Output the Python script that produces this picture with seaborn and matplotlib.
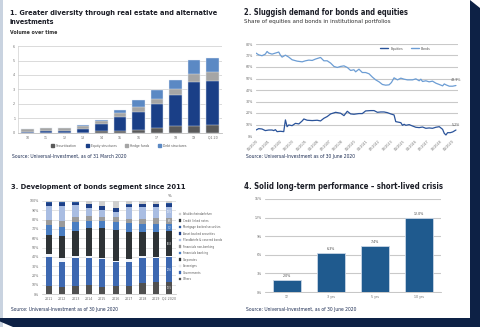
import numpy as np
import pandas as pd
import matplotlib
matplotlib.use("Agg")
import matplotlib.pyplot as plt
import seaborn as sns
from matplotlib import font_manager
from matplotlib.patches import Polygon, Rectangle, Patch
from matplotlib.lines import Line2D

# ---------------- data ----------------
# Panel 1: volume over time (stacked)
p1_years = ["10", "11", "12", "13", "14", "15", "16", "17", "18", "19", "Q1 20"]
p1_securitisation = [0.02, 0.02, 0.02, 0.03, 0.12, 0.15, 0.20, 0.36, 0.45, 0.45, 0.52]
p1_equity = [0.08, 0.10, 0.14, 0.27, 0.49, 0.93, 1.22, 1.62, 2.15, 3.05, 3.08]
p1_hedge = [0.18, 0.20, 0.17, 0.17, 0.19, 0.32, 0.38, 0.38, 0.40, 0.60, 0.60]
p1_debt = [0.02, 0.04, 0.03, 0.05, 0.11, 0.21, 0.50, 0.62, 0.66, 0.92, 0.94]
p1_series = ["Securitisation", "Equity structures", "Hedge funds", "Debt structures"]
p1_yticks = ["0", "1", "2", "3", "4", "5", "6"]

# Panel 2: share of equities and bonds (%)
p2_bonds_x = [2000.0, 2000.27, 2000.61, 2000.95, 2001.13, 2001.30, 2001.64, 2001.98, 2002.32, 2002.49,
              2002.66, 2003.0, 2003.34, 2003.68, 2004.19, 2004.71, 2005.05, 2005.39, 2005.73, 2006.07,
              2006.58, 2006.92, 2007.26, 2007.61, 2007.95, 2008.29, 2008.63, 2008.97, 2009.31, 2009.65,
              2009.99, 2010.16, 2010.50, 2010.84, 2011.18, 2011.53, 2011.87, 2012.21, 2012.55, 2012.89,
              2013.23, 2013.57, 2013.81, 2014.08, 2014.43, 2014.77, 2015.11, 2015.45, 2015.96, 2016.30,
              2016.64, 2016.81, 2016.98, 2017.32, 2017.66, 2018.0, 2018.35, 2018.69, 2019.03, 2019.20,
              2019.37, 2019.71, 2020.05, 2020.39]
p2_bonds = [72.1, 70.6, 69.8, 71.2, 73.5, 72.1, 71.2, 72.1, 73.0, 70.3,
            68.6, 70.3, 68.6, 66.3, 65.1, 64.5, 65.4, 66.0, 65.7, 66.9,
            68.3, 65.4, 65.4, 63.4, 60.5, 59.6, 60.5, 61.0, 59.6, 57.0,
            57.6, 55.8, 58.1, 55.2, 55.2, 54.1, 51.2, 48.8, 47.1, 44.8,
            44.2, 44.5, 46.5, 50.6, 48.8, 50.3, 49.4, 48.8, 48.8, 49.7,
            48.0, 49.4, 47.4, 48.0, 47.1, 47.7, 45.9, 44.8, 43.6, 45.3,
            44.5, 43.3, 43.3, 43.9]
p2_eq_x = [2000.0, 2000.27, 2000.61, 2000.95, 2001.30, 2001.64, 2001.81, 2001.98, 2002.15, 2002.49,
           2002.83, 2003.0, 2003.17, 2003.34, 2003.68, 2004.02, 2004.37, 2004.71, 2004.88, 2005.22,
           2005.73, 2006.24, 2006.58, 2006.92, 2007.26, 2007.61, 2008.12, 2008.63, 2008.97, 2009.31,
           2009.65, 2009.99, 2010.50, 2010.84, 2011.18, 2011.70, 2012.04, 2012.38, 2012.72, 2013.06,
           2013.40, 2013.74, 2014.08, 2014.25, 2014.60, 2014.77, 2014.94, 2015.11, 2015.28, 2015.62,
           2015.96, 2016.30, 2016.64, 2016.98, 2017.32, 2017.66, 2018.0, 2018.35, 2018.69, 2019.03,
           2019.20, 2019.37, 2019.54, 2019.81, 2020.05, 2020.39]
p2_equities = [5.2, 6.4, 6.1, 4.7, 5.2, 5.2, 4.7, 5.5, 3.8, 4.1,
               3.8, 14.0, 8.1, 9.6, 9.0, 11.0, 10.5, 13.1, 14.8, 13.7,
               13.4, 13.7, 13.1, 15.4, 16.9, 19.2, 20.6, 19.8, 17.7, 21.5,
               19.2, 18.9, 19.5, 19.5, 21.8, 22.1, 22.1, 20.6, 20.9, 20.9,
               20.3, 19.2, 18.3, 12.5, 11.9, 11.6, 9.3, 10.2, 9.3, 9.9,
               8.7, 7.6, 7.3, 7.8, 6.7, 7.0, 6.7, 7.6, 8.1, 5.8,
               2.3, 0.9, 2.9, 2.9, 3.5, 5.2]
p2_yticks = ["0%", "10%", "20%", "30%", "40%", "50%", "60%", "70%", "80%"]
p2_xtick_labels = ["01/2000", "04/2001", "07/2002", "10/2003", "01/2005", "04/2006", "07/2007",
                   "10/2008", "01/2010", "04/2011", "07/2012", "10/2013", "01/2015", "04/2016",
                   "07/2017", "10/2018", "01/2020"]
p2_xtick_pos = [2000.0, 2001.25, 2002.5, 2003.75, 2005.0, 2006.25, 2007.5, 2008.75, 2010.0,
                2011.25, 2012.5, 2013.75, 2015.0, 2016.25, 2017.5, 2018.75, 2020.0]

# Panel 3: bonds segment composition (%), stacked bottom -> top
p3_years = ["2011", "2012", "2013", "2014", "2015", "2016", "2017", "2018", "2019", "Q2 2020"]
p3_others = [9.0, 7.9, 9.0, 9.7, 7.9, 9.0, 9.0, 11.5, 12.5, 12.5]
p3_governments = [31.0, 26.9, 30.0, 29.3, 29.7, 25.0, 25.8, 27.5, 25.9, 27.6]
p3_sovereigns = [2.7, 4.2, 1.9, 2.2, 1.4, 1.8, 2.8, 1.9, 1.7, 0.8]
p3_corporates = [20.7, 23.4, 26.8, 29.4, 31.6, 33.0, 29.4, 26.1, 26.9, 26.8]
p3_fin_banking = [10.8, 10.0, 9.3, 7.9, 7.9, 9.0, 9.0, 7.9, 7.9, 7.2]
p3_fin_nonbanking = [5.4, 6.1, 6.2, 5.7, 4.7, 5.4, 4.6, 5.7, 6.5, 6.5]
p3_pfandbriefe = [15.4, 16.5, 12.5, 8.6, 7.1, 5.3, 12.6, 13.3, 12.5, 12.5]
p3_abs = [3.1, 3.1, 2.4, 3.5, 3.8, 3.8, 2.7, 2.4, 2.4, 3.1]
p3_mbs = [0.5, 0.5, 0.5, 0.5, 0.5, 0.5, 0.5, 0.5, 0.5, 0.5]
p3_cln = [0.2, 0.2, 0.2, 0.2, 0.2, 0.2, 0.2, 0.2, 0.2, 0.2]
p3_schuldschein = [1.2, 1.2, 1.2, 3.0, 5.2, 7.0, 3.4, 3.0, 3.0, 2.3]
p3_names = ["Others", "Governments", "Sovereigns", "Corporates", "Financials banking",
            "Financials non-banking", "Pfandbriefe & covered bonds", "Asset backed securities",
            "Mortgage backed securities", "Credit linked notes", "Schuldscheindarlehen"]
p3_yticks = ["0%", "10%", "20%", "30%", "40%", "50%", "60%", "70%", "80%", "90%", "100%"]

# Panel 4: performance
p4_periods = ["1Y", "3 yrs", "5 yrs", "10 yrs"]
p4_values = [2.0, 6.3, 7.4, 12.0]
p4_labels = ["2.0%", "6.3%", "7.4%", "12.0%"]
p4_yticks = ["0%", "3%", "6%", "9%", "12%", "15%"]

# ---------------- style ----------------
sns.set_theme(style="white")
fonts = font_manager.fontManager.ttflist
has_dv_cond = any(f.name == "DejaVu Sans" and f.stretch == "condensed" for f in fonts)
names = {f.name for f in fonts}
if has_dv_cond:
    FAMILY, STRETCH = "DejaVu Sans", "condensed"
elif "Liberation Sans Narrow" in names:
    FAMILY, STRETCH = "Liberation Sans Narrow", "normal"
else:
    FAMILY, STRETCH = "Roboto", "normal"
plt.rcParams["font.family"] = [FAMILY]
plt.rcParams["font.stretch"] = STRETCH

W, H = 480, 327
fig = plt.figure(figsize=(W / 100, H / 100), dpi=100)
fig.patch.set_facecolor("white")

NAVY = "#0d2145"
TITLE_C = "#1b1d26"
SRC_C = "#1c2c52"
TICK_C = "#6a6a6a"
TICK_FS = 2.6

# page decorations
bg = fig.add_axes([0, 0, 1, 1], zorder=-10)
bg.set_xlim(0, W)
bg.set_ylim(H, 0)
bg.axis("off")
bg.add_patch(Rectangle((0, 0), 3, H, color="#c9d3e0", lw=0))
bg.add_patch(Polygon([(470, 0), (480, 8), (480, H), (470, H)], closed=True, color=NAVY, lw=0))
bg.add_patch(Polygon([(0, 318), (480, 318), (480, H), (13, H), (0, 321.5)], closed=True, color=NAVY, lw=0))


def ax_px(x0, y0, x1, y1):
    return fig.add_axes([x0 / W, 1 - y1 / H, (x1 - x0) / W, (y1 - y0) / H])


fig.canvas.draw()
renderer = fig.canvas.get_renderer()


def fit_text(x, y, s, width, size=6, **kw):
    t = fig.text(x / W, 1 - y / H, s, fontsize=size, va="center", ha="left", **kw)
    w = t.get_window_extent(renderer=renderer).width
    t.set_fontsize(size * width / w)
    return t


def stacked(ax, cats, layers, colors, width, edge="none"):
    cum = np.zeros(len(cats))
    cums = []
    for vals in layers:
        cum = cum + np.array(vals)
        cums.append(cum.copy())
    for tot, col in reversed(list(zip(cums, colors))):
        df = pd.DataFrame({"cat": cats, "v": tot})
        sns.barplot(data=df, x="cat", y="v", order=cats, color=col, saturation=1,
                    width=width, errorbar=None, ax=ax, edgecolor=edge, linewidth=0.3)
    return cums


def style_ticks(ax):
    ax.tick_params(axis="both", labelsize=TICK_FS, colors=TICK_C, length=0, pad=2)
    ax.set_xlabel("")
    ax.set_ylabel("")


# ---------------- Panel 1 ----------------
fit_text(10, 12.5, "1. Greater diversity through real estate and alternative", 212,
         fontweight="bold", color=TITLE_C)
fit_text(10, 22.5, "investments", 45, fontweight="bold", color=TITLE_C)
fit_text(10, 32, "Volume over time", 47, fontweight="bold", color="#333333")
ax1 = ax_px(18, 46, 222, 133)
p1_colors = ["#5a5a5a", "#1a3f87", "#a5a5a5", "#5b89c4"]
stacked(ax1, p1_years, [p1_securitisation, p1_equity, p1_hedge, p1_debt], p1_colors, 0.68,
        edge="#e8eef6")
ax1.set_ylim(0, 6)
ax1.set_xlim(-0.5, len(p1_years) - 0.5)
ax1.set_yticks(range(len(p1_yticks)))
ax1.set_yticklabels(p1_yticks)
ax1.yaxis.grid(True, color="#d4d4d4", lw=0.6)
ax1.set_axisbelow(True)
for s in ["top", "right"]:
    ax1.spines[s].set_visible(False)
ax1.spines["left"].set_color("#d0d0d0")
ax1.spines["bottom"].set_color("#bdbdbd")
ax1.spines["left"].set_linewidth(0.5)
ax1.spines["bottom"].set_linewidth(0.6)
style_ticks(ax1)
h1 = [Patch(color=c) for c in p1_colors]
fig.legend(h1, p1_series, loc="center", bbox_to_anchor=(119 / W, 1 - 146 / H), ncol=4,
           frameon=False, fontsize=2.4, handlelength=0.9, handleheight=0.9, columnspacing=2.6,
           handletextpad=0.6, labelcolor="#555555")
fit_text(12, 156, "Source: Universal-Investment, as of 31 March 2020", 115, color=SRC_C)

# ---------------- Panel 2 ----------------
fit_text(244, 12.5, "2. Sluggish demand for bonds and equities", 166, fontweight="bold", color=TITLE_C)
fit_text(244, 21.7, "Share of equities and bonds in institutional portfolios", 147, color="#333333")
ax2 = ax_px(256, 44, 458, 136)
C_EQ, C_BD = "#2a539a", "#6c9dd4"
sns.lineplot(x=p2_eq_x, y=p2_equities, ax=ax2, color=C_EQ, lw=0.9)
sns.lineplot(x=p2_bonds_x, y=p2_bonds, ax=ax2, color=C_BD, lw=0.9)
ax2.set_ylim(0, 80)
ax2.set_xlim(2000.0, 2020.6)
ax2.set_yticks(np.arange(len(p2_yticks)) * 10)
ax2.set_yticklabels(p2_yticks)
ax2.set_xticks(p2_xtick_pos)
ax2.set_xticklabels(p2_xtick_labels, rotation=45, ha="right", rotation_mode="anchor")
ax2.yaxis.grid(True, color="#c9c9c9", lw=0.8)
sns.despine(ax=ax2, left=True, bottom=True)
style_ticks(ax2)
ax2.text(p2_bonds_x[-1], p2_bonds[-1] + 3, f"{p2_bonds[-1]:.1f}%", fontsize=2.6, color="#555555",
         ha="center", va="bottom")
ax2.text(p2_eq_x[-1], p2_equities[-1] + 3, f"{p2_equities[-1]:.1f}%", fontsize=2.6, color="#555555",
         ha="center", va="bottom")
ax2.legend([Line2D([], [], color=C_EQ, lw=1), Line2D([], [], color=C_BD, lw=1)], ["Equities", "Bonds"],
           loc="center", bbox_to_anchor=(0.74, 0.95), ncol=2, frameon=False, fontsize=2.6,
           handlelength=2.2, columnspacing=2.2, handletextpad=0.6, labelcolor="#555555")
fit_text(246, 157, "Source: Universal-Investment as of 30 June 2020", 112, color=SRC_C)

# ---------------- Panel 3 ----------------
fit_text(11, 186.7, "3. Development of bonds segment since 2011", 175, fontweight="bold", color=TITLE_C)
ax3 = ax_px(42, 201, 176, 294)
p3_layers = [p3_others, p3_governments, p3_sovereigns, p3_corporates, p3_fin_banking,
             p3_fin_nonbanking, p3_pfandbriefe, p3_abs, p3_mbs, p3_cln, p3_schuldschein]
p3_colors = ["#505050", "#3d68b1", "#f0f4fa", "#2e3336", "#4a7ec2", "#9b9b9b", "#a9bde2",
             "#1d3f87", "#2c5aa0", "#2e3336", "#cfcfcf"]
cums3 = stacked(ax3, p3_years, p3_layers, p3_colors, 0.45)
ax3.set_ylim(0, 100)
ax3.set_xlim(-0.5, len(p3_years) - 0.5)
ax3.set_yticks(np.arange(len(p3_yticks)) * 10)
ax3.set_yticklabels(p3_yticks)
ax3.yaxis.grid(True, color="#d9d9d9", lw=0.5)
ax3.set_axisbelow(True)
sns.despine(ax=ax3, left=True)
ax3.spines["bottom"].set_color("#bdbdbd")
ax3.spines["bottom"].set_linewidth(0.5)
style_ticks(ax3)
last = len(p3_years) - 1
prev = 0.0
for vals, cum in zip(p3_layers, cums3):
    v = vals[last]
    if v >= 5:
        ax3.text(last, prev + v / 2, f"{v:.1f}", fontsize=1.8, color="white", ha="center", va="center")
    prev = cum[last]
ax3.text(last, 103, "%", fontsize=3, color="#444444", ha="center", va="bottom")
h3 = [Patch(facecolor=c, edgecolor="#d0d0d0" if c in ("#f0f4fa",) else c, lw=0.2) for c in p3_colors]
ax3.legend(h3[::-1], p3_names[::-1], loc="center left", bbox_to_anchor=(1.0, 0.51), frameon=False,
           fontsize=2.2, handlelength=0.8, handleheight=0.8, labelspacing=0.82, handletextpad=0.5,
           labelcolor="#555555")
fit_text(11, 310, "Source: Universal-Investment as of 30 June 2020", 108, color=SRC_C)

# ---------------- Panel 4 ----------------
fit_text(244, 186.5, "4. Solid long-term performance \u2013 short-lived crisis", 199, fontweight="bold",
         color=TITLE_C)
ax4 = ax_px(265, 199, 441, 292)
df4 = pd.DataFrame({"period": p4_periods, "value": p4_values})
sns.barplot(data=df4, x="period", y="value", order=p4_periods, color="#1f5a8e", saturation=1,
            width=0.64, errorbar=None, ax=ax4, edgecolor="#c9d6e6", linewidth=0.6)
ax4.set_ylim(0, 15)
ax4.set_xlim(-0.5, len(p4_periods) - 0.5)
ax4.set_yticks(np.arange(len(p4_yticks)) * 3)
ax4.set_yticklabels(p4_yticks)
ax4.yaxis.grid(True, color="#c9c9c9", lw=0.8)
ax4.set_axisbelow(True)
sns.despine(ax=ax4, left=True)
ax4.spines["bottom"].set_color("#bdbdbd")
ax4.spines["bottom"].set_linewidth(0.6)
style_ticks(ax4)
for i, (v, lab) in enumerate(zip(p4_values, p4_labels)):
    ax4.text(i, v + 0.3, lab, fontsize=2.6, color="#444444", ha="center", va="bottom")
fit_text(246, 310, "Source: Universal-Investment, as of 30 June 2020", 112, color=SRC_C)

fig.savefig("out.png", dpi=100)
